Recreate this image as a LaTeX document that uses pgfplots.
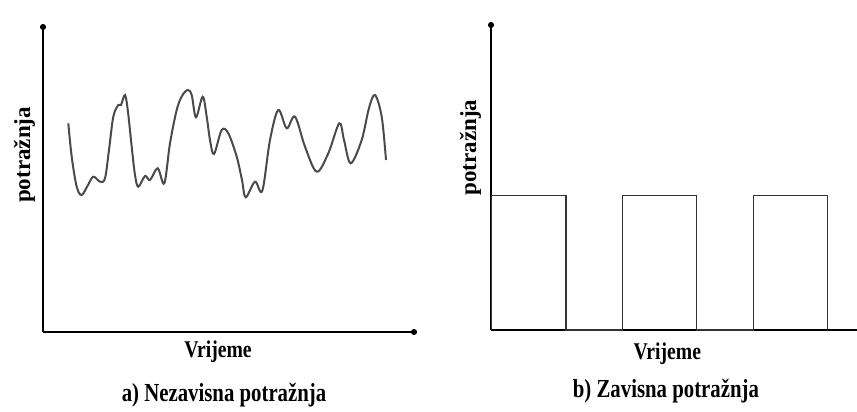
\documentclass[border=0pt]{standalone}
\usepackage{pgfplots}
\pgfplotsset{compat=1.18}
\usepackage{graphicx}
\usetikzlibrary{arrows.meta}
\usepackage{fontspec}
\setmainfont{Liberation Serif}
\definecolor{curve}{HTML}{4A4A4A}
\definecolor{rect}{HTML}{333333}
\newcommand{\lab}[1]{\scalebox{0.82}[1]{\fontsize{24bp}{28bp}\selectfont\bfseries #1}}
\newcommand{\sub}[1]{\scalebox{0.8}[1]{\fontsize{26bp}{30bp}\selectfont\bfseries #1}}
\newcommand{\ylab}{{\fontsize{23bp}{26bp}\selectfont\bfseries potražnja}}
\pgfplotsset{myax/.style={
  scale only axis, x=1bp, y=1bp,
  axis lines=left,
  axis line style={line width=1.8bp, black},
  x axis line style={-{Circle[length=6bp]}},
  y axis line style={-{Circle[length=6bp]}},
  xtick=\empty, ytick=\empty,
  clip=false,
  xlabel style={anchor=base, inner sep=0pt},
  title style={anchor=base, inner sep=0pt},
  ylabel style={anchor=center, inner sep=0pt},
}}
\begin{document}
\begin{tikzpicture}
\useasboundingbox (0,0) rectangle (857bp,412bp);
% left panel
\begin{axis}[myax, at={(43bp,80bp)}, anchor=south west,
  xmin=43, xmax=417, ymin=80, ymax=388,
  xlabel={\lab{Vrijeme}},
  xlabel style={at={(axis description cs:0.468,-0.0812)}},
  title={\sub{a) Nezavisna potražnja}},
  title style={at={(axis description cs:0.484,-0.2435)}},
  ylabel={\ylab},
  ylabel style={at={(axis description cs:-0.0495,0.575)}, rotate=0},
]
\addplot[color=curve, line width=2bp, smooth, tension=0.55] coordinates {
(68.3,288.7) (71.7,255.3) (76.7,225.3) (81.7,217) (88,227) (93.3,235.3)
(100,230.3) (105,233.7) (109,262) (113.3,295.3) (118.3,307) (121,307)
(125,317) (128,300) (131.7,265.3) (135,237) (138.3,225.3) (145,236)
(150,232) (157.7,243.7) (164.3,228.7) (170,268.7) (176.7,302) (182,316)
(187.7,322) (191.7,317) (196,294.7) (202.7,315.3) (206.7,295.3) (210,272)
(214,258) (221.7,282) (228.3,278.7) (236.7,255.3) (242,232) (245.7,214.7)
(255,230.3) (262.3,221.3) (270,272) (278.3,302) (286.7,283.7) (295,295.3)
(305,265.3) (316.7,240.3) (328.3,258.7) (339.3,288.7) (344,272) (350.7,248.7)
(361.7,272) (369,304) (375,317) (381.7,295.3) (386,252)
};
\end{axis}
% right panel
\begin{axis}[myax, at={(491bp,82bp)}, anchor=south west,
  xmin=491, xmax=857, ymin=82, ymax=390,
  x axis line style={-},
  xlabel={\lab{Vrijeme}},
  xlabel style={at={(axis description cs:0.482,-0.0974)}},
  title={\sub{b) Zavisna potražnja}},
  title style={at={(axis description cs:0.478,-0.237)}},
  ylabel={\ylab},
  ylabel style={at={(axis description cs:-0.056,0.5925)}, rotate=0},
]
\addplot[color=rect, line width=1.3bp, sharp plot] coordinates {
(491.7,82) (491.7,216.3) (566,216.3) (566,82)
(622.3,82) (622.3,216.3) (696.7,216.3) (696.7,82)
(753.3,82) (753.3,216.3) (827.3,216.3) (827.3,82)
};
\end{axis}
\end{tikzpicture}
\end{document}
